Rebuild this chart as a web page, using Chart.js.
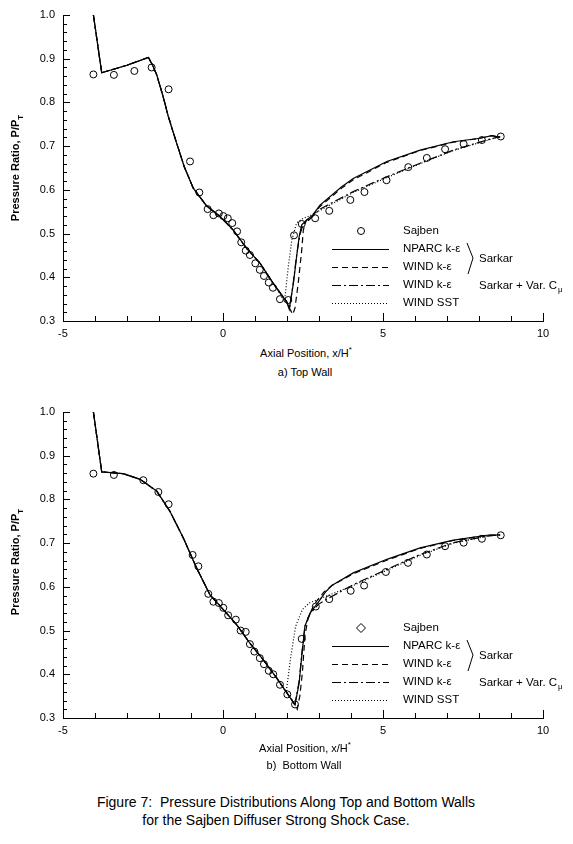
<!DOCTYPE html>
<html>
<head>
<meta charset="utf-8">
<script src="https://cdn.jsdelivr.net/npm/chart.js@4.4.1/dist/chart.umd.min.js"></script>
<style>
  body { margin: 0; background: #fff; font-family: "Liberation Sans", Arial, sans-serif; color: #000; }
  #page { position: relative; width: 573px; height: 844px; overflow: hidden; }
  canvas { position: absolute; left: 0; }
  .lbl { position: absolute; white-space: nowrap; transform: translate(-50%, -50%); font-size: 11px; }
  .ytitle { position: absolute; white-space: nowrap; font-size: 11px; font-weight: bold;
            transform: translate(-50%, -50%) rotate(-90deg); }
  .cap { position: absolute; white-space: nowrap; transform: translate(-50%, -50%); font-size: 14px; }
  sub { font-size: 8px; }
  sup { font-size: 8px; }
</style>
</head>
<body>
<div id="page">
  <canvas id="topChart" width="573" height="345" style="top:0"></canvas>
  <canvas id="botChart" width="573" height="345" style="top:397px"></canvas>

  <div class="ytitle" style="left:17px; top:168px">Pressure Ratio, P/P<sub>T</sub></div>
  <div class="lbl" style="left:306px; top:352px">Axial Position, x/H<sup>*</sup></div>
  <div class="lbl" style="left:305px; top:372px">a) Top Wall</div>

  <div class="ytitle" style="left:17px; top:562px">Pressure Ratio, P/P<sub>T</sub></div>
  <div class="lbl" style="left:305px; top:747px">Axial Position, x/H<sup>*</sup></div>
  <div class="lbl" style="left:304px; top:765px">b)&nbsp; Bottom Wall</div>

  <div class="cap" style="left:286px; top:802px">Figure 7:&nbsp; Pressure Distributions Along Top and Bottom Walls</div>
  <div class="cap" style="left:276px; top:820px">for the Sajben Diffuser Strong Shock Case.</div>
</div>

<script>
// ---- Top wall ----
const topSajbenX = [-4.05, -3.41, -2.77, -2.23, -1.70, -1.03, -0.74, -0.48, -0.30, -0.13, 0.01, 0.15, 0.29, 0.44, 0.57, 0.71, 0.84, 1.01, 1.15, 1.28, 1.43, 1.56, 1.78, 2.04, 2.22, 2.46, 2.88, 3.32, 3.98, 4.42, 5.11, 5.79, 6.37, 6.94, 7.52, 8.09, 8.68];
const topSajbenY = [0.864, 0.863, 0.872, 0.880, 0.830, 0.665, 0.594, 0.556, 0.542, 0.546, 0.540, 0.535, 0.524, 0.505, 0.480, 0.461, 0.451, 0.432, 0.417, 0.403, 0.388, 0.376, 0.350, 0.348, 0.496, 0.522, 0.535, 0.552, 0.577, 0.595, 0.622, 0.652, 0.673, 0.693, 0.705, 0.714, 0.722];

const topNparcX = [-4.05, -3.79, -3.0, -2.33, -2.2, -2.07, -1.87, -1.71, -1.45, -1.21, -0.93, -0.51, -0.09, 0.32, 0.74, 1.16, 1.57, 1.99, 2.07, 2.2, 2.3, 2.38, 2.46, 2.62, 2.8, 3.03, 3.71, 4.07, 5.12, 6.16, 7.2, 8.03, 8.4, 8.66];
const topNparcY = [1.0, 0.868, 0.885, 0.903, 0.885, 0.863, 0.813, 0.768, 0.707, 0.653, 0.604, 0.563, 0.539, 0.508, 0.466, 0.432, 0.386, 0.344, 0.327, 0.386, 0.447, 0.493, 0.52, 0.531, 0.542, 0.565, 0.607, 0.626, 0.665, 0.691, 0.71, 0.718, 0.724, 0.72];

const topWindX = [-4.05, -3.79, -3.0, -2.33, -2.2, -2.07, -1.87, -1.71, -1.45, -1.21, -0.93, -0.51, -0.09, 0.32, 0.74, 1.16, 1.57, 1.99, 2.1, 2.18, 2.25, 2.35, 2.46, 2.51, 2.6, 2.8, 3.03, 3.71, 4.07, 5.12, 6.16, 7.2, 8.03, 8.4, 8.66];
const topWindY = [1.0, 0.868, 0.885, 0.903, 0.885, 0.863, 0.813, 0.768, 0.707, 0.653, 0.604, 0.563, 0.539, 0.508, 0.466, 0.432, 0.386, 0.344, 0.326, 0.315, 0.33, 0.386, 0.462, 0.508, 0.53, 0.54, 0.562, 0.604, 0.623, 0.663, 0.69, 0.709, 0.718, 0.724, 0.72];

const topVarCmuX = [-4.05, -3.79, -3.0, -2.33, -2.2, -2.07, -1.87, -1.71, -1.45, -1.21, -0.93, -0.51, -0.09, 0.32, 0.74, 1.16, 1.57, 1.99, 2.08, 2.2, 2.3, 2.4, 2.5, 2.7, 3.03, 4.07, 5.12, 6.16, 7.2, 8.24, 8.66];
const topVarCmuY = [1.0, 0.868, 0.885, 0.903, 0.885, 0.863, 0.813, 0.768, 0.707, 0.653, 0.604, 0.563, 0.539, 0.508, 0.466, 0.432, 0.386, 0.344, 0.328, 0.39, 0.45, 0.497, 0.52, 0.532, 0.556, 0.596, 0.63, 0.661, 0.691, 0.714, 0.722];

const topSstX = [-4.05, -3.79, -3.0, -2.33, -2.2, -2.07, -1.87, -1.71, -1.45, -1.21, -0.93, -0.51, -0.09, 0.32, 0.74, 1.16, 1.57, 1.8, 1.92, 2.04, 2.15, 2.3, 2.51, 2.7, 3.03, 4.07, 5.12, 6.16, 7.2, 8.24, 8.66];
const topSstY = [1.0, 0.868, 0.885, 0.903, 0.885, 0.863, 0.813, 0.768, 0.707, 0.653, 0.604, 0.563, 0.539, 0.508, 0.466, 0.432, 0.386, 0.36, 0.343, 0.424, 0.485, 0.524, 0.535, 0.54, 0.553, 0.594, 0.628, 0.66, 0.69, 0.713, 0.722];

// ---- Bottom wall ----
const botSajbenX = [-4.05, -3.41, -2.49, -2.02, -1.70, -0.95, -0.77, -0.46, -0.30, -0.13, 0.01, 0.16, 0.40, 0.55, 0.71, 0.84, 0.98, 1.15, 1.28, 1.43, 1.57, 1.78, 2.01, 2.25, 2.46, 2.90, 3.32, 3.99, 4.41, 5.09, 5.78, 6.37, 6.94, 7.52, 8.09, 8.68];
const botSajbenY = [0.859, 0.856, 0.844, 0.817, 0.789, 0.673, 0.647, 0.584, 0.566, 0.563, 0.552, 0.535, 0.525, 0.500, 0.497, 0.469, 0.452, 0.437, 0.423, 0.408, 0.400, 0.376, 0.354, 0.331, 0.481, 0.555, 0.572, 0.591, 0.603, 0.634, 0.655, 0.674, 0.693, 0.701, 0.710, 0.718];

const botNparcX = [-4.05, -3.79, -3.12, -2.59, -2.07, -1.66, -1.24, -0.83, -0.41, 0.01, 0.43, 0.84, 1.26, 1.68, 2.04, 2.25, 2.38, 2.46, 2.56, 2.72, 2.98, 3.2, 3.4, 4.07, 5.12, 6.16, 7.2, 8.24, 8.66];
const botNparcY = [1.0, 0.863, 0.859, 0.846, 0.819, 0.773, 0.712, 0.644, 0.582, 0.548, 0.513, 0.471, 0.433, 0.391, 0.353, 0.33, 0.38, 0.441, 0.51, 0.54, 0.565, 0.588, 0.603, 0.632, 0.663, 0.689, 0.707, 0.718, 0.719];

const botWindX = [-4.05, -3.79, -3.12, -2.59, -2.07, -1.66, -1.24, -0.83, -0.41, 0.01, 0.43, 0.84, 1.26, 1.68, 2.04, 2.2, 2.32, 2.4, 2.48, 2.56, 2.66, 2.85, 3.15, 3.4, 4.07, 5.12, 6.16, 7.2, 8.24, 8.66];
const botWindY = [1.0, 0.863, 0.859, 0.846, 0.819, 0.773, 0.712, 0.644, 0.582, 0.548, 0.513, 0.471, 0.433, 0.391, 0.353, 0.335, 0.32, 0.35, 0.403, 0.487, 0.53, 0.56, 0.588, 0.603, 0.63, 0.661, 0.688, 0.706, 0.718, 0.719];

const botVarCmuX = [-4.05, -3.79, -3.12, -2.59, -2.07, -1.66, -1.24, -0.83, -0.41, 0.01, 0.43, 0.84, 1.26, 1.68, 2.04, 2.25, 2.38, 2.46, 2.56, 2.72, 2.98, 3.2, 4.07, 5.12, 6.16, 7.2, 8.24, 8.66];
const botVarCmuY = [1.0, 0.863, 0.859, 0.846, 0.819, 0.773, 0.712, 0.644, 0.582, 0.548, 0.513, 0.471, 0.433, 0.391, 0.353, 0.332, 0.385, 0.445, 0.51, 0.538, 0.56, 0.57, 0.605, 0.64, 0.674, 0.701, 0.716, 0.719];

const botSstX = [-4.05, -3.79, -3.12, -2.59, -2.07, -1.66, -1.24, -0.83, -0.41, 0.01, 0.43, 0.84, 1.26, 1.68, 1.9, 1.98, 2.12, 2.27, 2.48, 2.69, 3.03, 4.07, 5.12, 6.16, 7.2, 8.24, 8.66];
const botSstY = [1.0, 0.863, 0.859, 0.846, 0.819, 0.773, 0.712, 0.644, 0.582, 0.548, 0.513, 0.471, 0.433, 0.391, 0.366, 0.362, 0.441, 0.51, 0.548, 0.563, 0.573, 0.603, 0.638, 0.672, 0.7, 0.716, 0.719];

// axis ticks
const xTickValues = [-5, 0, 5, 10];
const yTickValues = [0.3, 0.4, 0.5, 0.6, 0.7, 0.8, 0.9, 1.0];

const FONT = '"Liberation Sans", Arial, sans-serif';
const pts = (xs, ys) => xs.map((x, i) => ({ x: x, y: ys[i] }));

// inward tick marks, like the original plot
const innerTicks = {
  id: 'innerTicks',
  afterDraw(chart) {
    const ctx = chart.ctx;
    const xs = chart.scales.x, ys = chart.scales.y;
    const bottom = chart.chartArea.bottom, left = chart.chartArea.left;
    ctx.save();
    ctx.strokeStyle = '#000';
    ctx.lineWidth = 1;
    ctx.beginPath();
    for (let v = -5; v <= 10; v++) {
      const px = Math.round(xs.getPixelForValue(v)) + 0.5;
      const len = v % 5 === 0 ? 8 : 5;
      ctx.moveTo(px, bottom);
      ctx.lineTo(px, bottom - len);
    }
    for (let k = 0; k <= 35; k++) {
      const v = 0.3 + k * 0.02;
      const py = Math.round(ys.getPixelForValue(v)) + 0.5;
      const len = k % 5 === 0 ? 7 : 4;
      ctx.moveTo(left, py);
      ctx.lineTo(left + len, py);
    }
    ctx.stroke();
    ctx.restore();
  }
};

const lineStyles = [
  { label: 'NPARC k-\u03b5', dash: [] },
  { label: 'WIND k-\u03b5', dash: [6, 4] },
  { label: 'WIND k-\u03b5', dash: [9, 3, 2, 3] },
  { label: 'WIND SST', dash: [1, 2] }
];

function legendPlugin(symbol) {
  return {
    id: 'customLegend',
    afterDraw(chart) {
      const ctx = chart.ctx;
      const rows = [231, 249, 267, 285, 303];
      ctx.save();
      ctx.fillStyle = '#000';
      ctx.strokeStyle = '#000';
      ctx.font = '11.5px ' + FONT;
      ctx.textBaseline = 'middle';
      ctx.lineWidth = 1;
      // Sajben symbol
      ctx.beginPath();
      if (symbol === 'circle') {
        ctx.arc(361, rows[0], 3.5, 0, Math.PI * 2);
      } else {
        ctx.moveTo(361, rows[0] - 4.5);
        ctx.lineTo(365.5, rows[0]);
        ctx.lineTo(361, rows[0] + 4.5);
        ctx.lineTo(356.5, rows[0]);
        ctx.closePath();
      }
      ctx.stroke();
      ctx.fillText('Sajben', 403, rows[0]);
      lineStyles.forEach((s, i) => {
        const y = rows[i + 1] + 0.5;
        ctx.setLineDash(s.dash);
        ctx.lineWidth = 1.2;
        ctx.beginPath();
        ctx.moveTo(332, y);
        ctx.lineTo(389, y);
        ctx.stroke();
        ctx.setLineDash([]);
        ctx.fillText(s.label, 403, rows[i + 1]);
      });
      // brace and group labels
      ctx.lineWidth = 1;
      ctx.beginPath();
      ctx.moveTo(467, 243);
      ctx.lineTo(473, 258);
      ctx.lineTo(468, 274);
      ctx.stroke();
      ctx.fillText('Sarkar', 479, 259);
      const txt = 'Sarkar + Var. C';
      ctx.fillText(txt, 479, 286);
      const w = ctx.measureText(txt).width;
      ctx.font = '8px ' + FONT;
      ctx.fillText('\u03bc', 479 + w + 1, 290);
      ctx.restore();
    }
  };
}

function makeChart(id, sets, symbol) {
  const lineDs = sets.lines.map((d, i) => ({
    label: lineStyles[i].label,
    data: d,
    showLine: true,
    borderColor: '#000',
    borderWidth: 1.2,
    borderDash: lineStyles[i].dash,
    pointRadius: 0,
    tension: 0
  }));
  new Chart(document.getElementById(id), {
    type: 'scatter',
    data: {
      datasets: [{
        label: 'Sajben',
        data: sets.sajben,
        pointStyle: 'circle',
        pointRadius: 3.5,
        borderColor: '#000',
        backgroundColor: 'rgba(255,255,255,0)',
        borderWidth: 1,
        showLine: false
      }].concat(lineDs)
    },
    options: {
      responsive: false,
      animation: false,
      devicePixelRatio: 1,
      layout: { padding: { top: 15, right: 30, left: 0, bottom: 0 } },
      plugins: { legend: { display: false }, tooltip: { enabled: false } },
      scales: {
        x: {
          type: 'linear', min: -5, max: 10,
          afterFit: s => { s.height = 24; },
          afterBuildTicks: s => { s.ticks = xTickValues.map(v => ({ value: v })); },
          grid: { display: false, drawTicks: false },
          border: { display: true, color: '#000', width: 1 },
          ticks: { color: '#000', padding: 6, font: { family: FONT, size: 11 }, maxRotation: 0,
                   callback: v => String(v) }
        },
        y: {
          type: 'linear', min: 0.3, max: 1.0,
          afterFit: s => { s.width = 63; },
          afterBuildTicks: s => { s.ticks = yTickValues.map(v => ({ value: v })); },
          grid: { display: false, drawTicks: false },
          border: { display: true, color: '#000', width: 1 },
          ticks: { color: '#000', padding: 8, font: { family: FONT, size: 11 },
                   callback: v => Number(v).toFixed(1) }
        }
      }
    },
    plugins: [innerTicks, legendPlugin(symbol)]
  });
}

makeChart('topChart', {
  sajben: pts(topSajbenX, topSajbenY),
  lines: [pts(topNparcX, topNparcY), pts(topWindX, topWindY), pts(topVarCmuX, topVarCmuY), pts(topSstX, topSstY)]
}, 'circle');

makeChart('botChart', {
  sajben: pts(botSajbenX, botSajbenY),
  lines: [pts(botNparcX, botNparcY), pts(botWindX, botWindY), pts(botVarCmuX, botVarCmuY), pts(botSstX, botSstY)]
}, 'diamond');
</script>
</body>
</html>
